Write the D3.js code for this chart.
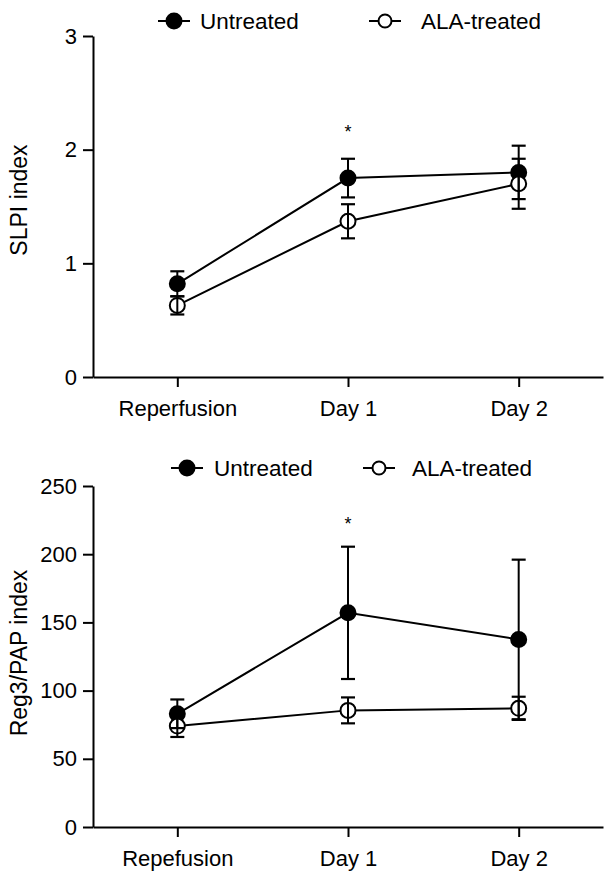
<!DOCTYPE html>
<html><head><meta charset="utf-8">
<script src="https://cdn.jsdelivr.net/npm/d3@7"></script>
<style>
body{margin:0;background:#fff;}
text{font-family:Arial,"Liberation Sans",sans-serif;fill:#000;}
</style></head>
<body><svg id="c" width="604" height="871"></svg>
<script>
const categories = ["Reperfusion","Day 1","Day 2"];
const categoriesBottom = ["Repefusion","Day 1","Day 2"];
const seriesNames = ["Untreated","ALA-treated"];
// Panel A: SLPI index
const slpiUntreated = [0.82, 1.75, 1.80];
const slpiUntreatedErr = [0.11, 0.17, 0.235];
const slpiAla = [0.63, 1.37, 1.70];
const slpiAlaErr = [0.08, 0.15, 0.22];
const slpiTicks = [0,1,2,3];
// Panel B: Reg3/PAP index
const regUntreated = [83, 157, 137.5];
const regUntreatedErr = [10.5, 48.5, 58.5];
const regAla = [74, 85.5, 87];
const regAlaErr = [8, 9.5, 8.5];
const regTicks = [0,50,100,150,200,250];
const sigIndex = 1;

const svg = d3.select("#c");
const FONT = "Arial, 'Liberation Sans', sans-serif";

function panel(cfg){
  const g = svg.append("g");
  const x = d3.scalePoint().domain(cfg.cats).range([93, 603]).padding(0.494);
  const y = d3.scaleLinear().domain([0, cfg.max]).range([cfg.y0, cfg.y1]);

  const ya = g.append("g").attr("transform","translate(93,0)")
    .call(d3.axisLeft(y).tickValues(cfg.ticks).tickFormat(d3.format("d")).tickSize(10).tickSizeOuter(0).tickPadding(6));
  ya.select(".domain").attr("stroke","#000").attr("stroke-width",2);
  ya.selectAll(".tick line").attr("stroke","#000").attr("stroke-width",2);
  ya.selectAll(".tick text").attr("font-size",22).style("font-family",FONT);

  const xa = g.append("g").attr("transform",`translate(0,${cfg.y0})`)
    .call(d3.axisBottom(x).tickSize(10).tickSizeOuter(0).tickPadding(13));
  xa.select(".domain").attr("stroke","#000").attr("stroke-width",2);
  xa.selectAll(".tick line").attr("stroke","#000").attr("stroke-width",2);
  xa.selectAll(".tick text").attr("font-size",22).style("font-family",FONT);

  g.append("text").attr("transform",`translate(${cfg.labelX},${cfg.labelY}) rotate(-90)`)
    .attr("text-anchor","middle").attr("font-size",23).text(cfg.label);

  const series = [
    {name:seriesNames[0], v:cfg.u, e:cfg.ue, fill:"#000"},
    {name:seriesNames[1], v:cfg.a, e:cfg.ae, fill:"#fff"}
  ];
  const line = d3.line().x((d,i)=>x(cfg.cats[i])).y(d=>y(d));
  series.forEach(s=>{
    g.append("path").datum(s.v).attr("d",line).attr("fill","none").attr("stroke","#000").attr("stroke-width",2);
  });
  series.forEach(s=>{
    g.selectAll(null).data(s.v).enter().append("circle")
      .attr("cx",(d,i)=>x(cfg.cats[i])).attr("cy",d=>y(d)).attr("r",7.5)
      .attr("fill",s.fill).attr("stroke","#000").attr("stroke-width",2);
  });
  series.forEach(s=>{
    s.v.forEach((d,i)=>{
      const cx = x(cfg.cats[i]);
      const hi = y(d+s.e[i]), lo = y(d-s.e[i]);
      g.append("line").attr("x1",cx).attr("x2",cx).attr("y1",hi).attr("y2",lo).attr("stroke","#000").attr("stroke-width",2);
      [hi,lo].forEach(yy=>g.append("line").attr("x1",cx-7).attr("x2",cx+7).attr("y1",yy).attr("y2",yy).attr("stroke","#000").attr("stroke-width",2.2));
    });
  });
  g.append("text").attr("x",x(cfg.cats[sigIndex])).attr("y",cfg.starY).attr("text-anchor","middle").attr("font-size",18).text("*");

  const lg = g.append("g");
  series.forEach((s,i)=>{
    const lx = cfg.legX[i];
    lg.append("line").attr("x1",lx-16).attr("x2",lx+16).attr("y1",cfg.legY).attr("y2",cfg.legY).attr("stroke","#000").attr("stroke-width",2);
    lg.append("circle").attr("cx",lx).attr("cy",cfg.legY).attr("r",i===0?7.5:6.5).attr("fill",s.fill).attr("stroke","#000").attr("stroke-width",2);
    lg.append("text").attr("x",lx+cfg.legDx[i]).attr("y",cfg.legY).attr("dy","0.35em").attr("font-size",22.5).text(s.name);
  });
}

panel({cats:categories, max:3, y0:377, y1:36, ticks:slpiTicks, label:"SLPI index", labelX:27, labelY:200,
  u:slpiUntreated, ue:slpiUntreatedErr, a:slpiAla, ae:slpiAlaErr, starY:138,
  legX:[174,385], legDx:[26,36], legY:21});
panel({cats:categoriesBottom, max:250, y0:827, y1:486, ticks:regTicks, label:"Reg3/PAP index", labelX:27, labelY:653,
  u:regUntreated, ue:regUntreatedErr, a:regAla, ae:regAlaErr, starY:530,
  legX:[187,379], legDx:[27,33], legY:468});
</script></body></html>
